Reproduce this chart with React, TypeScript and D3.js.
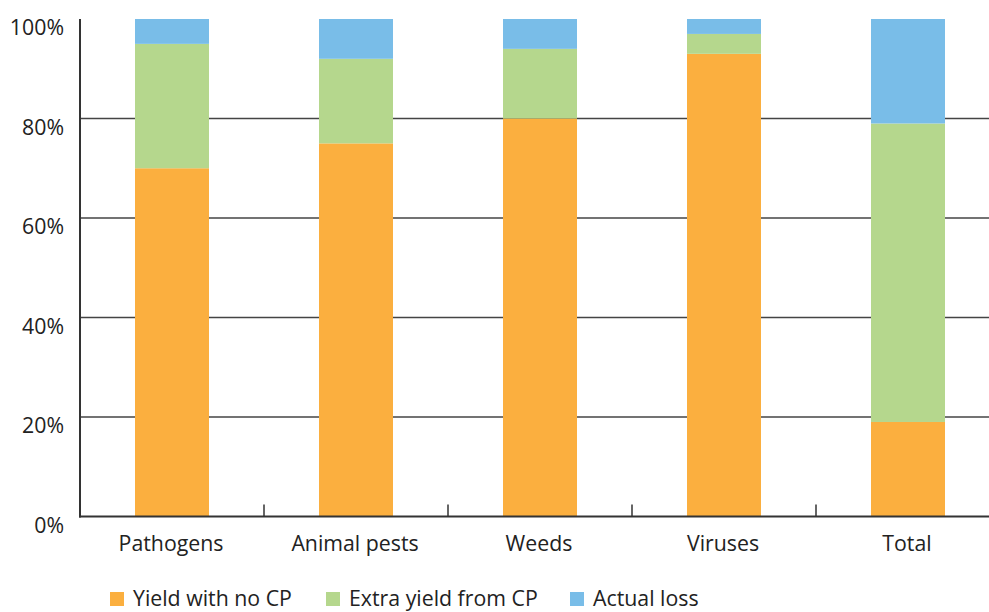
import React from "react";
import * as d3 from "d3";

const categories = ["Pathogens", "Animal pests", "Weeds", "Viruses", "Total"];
const yieldNoCP = [70, 75, 80, 93, 19];
const extraYield = [25, 17, 14, 4, 60];
const actualLoss = [5, 8, 6, 3, 21];
const seriesNames = ["Yield with no CP", "Extra yield from CP", "Actual loss"];
const seriesColors = ["#FBAF3F", "#B5D78D", "#79BDE8"];
const yTicks = [0, 20, 40, 60, 80, 100];

const W = 989;
const H = 612;
const left = 80;
const bandRight = 1000;
const top = 19;
const bottom = 516.5;
const font = "'Open Sans', 'Noto Sans', sans-serif";
const fs = 21.3;

export default function App() {
  const x = d3.scaleBand<string>().domain(categories).range([left, bandRight]).paddingInner(0).paddingOuter(0);
  const y = d3.scaleLinear().domain([0, 100]).range([bottom, top]);
  const barW = 74;

  const rows = categories.map((c, i) => ({
    cat: c,
    s0: yieldNoCP[i],
    s1: extraYield[i],
    s2: actualLoss[i],
  }));
  const stack = d3.stack<any>().keys(["s0", "s1", "s2"])(rows);

  const legendX = [110, 326, 570];

  return (
    <svg width={W} height={H} style={{ position: "absolute", left: 0, top: 0, background: "#fff" }}>
      {yTicks.filter((t) => t > 0 && t < 100).map((t) => (
        <line key={t} x1={left} x2={W} y1={y(t)} y2={y(t)} stroke="#444" strokeWidth={1.5} />
      ))}
      {stack.map((s, si) =>
        s.map((d, i) => (
          <rect
            key={si + "-" + i}
            x={(x(categories[i]) as number) + x.bandwidth() / 2 - barW / 2}
            y={y(d[1])}
            width={barW}
            height={y(d[0]) - y(d[1])}
            fill={seriesColors[si]}
          />
        ))
      )}
      <line x1={left} x2={left} y1={top} y2={bottom + 1} stroke="#333" strokeWidth={2} />
      <line x1={left - 1} x2={W} y1={bottom} y2={bottom} stroke="#333" strokeWidth={2} />
      {categories.map((c) => (
        <line key={c} x1={x(c) as number} x2={x(c) as number} y1={bottom - 12} y2={bottom} stroke="#333" strokeWidth={1.5} />
      ))}
      {yTicks.map((t) => (
        <text key={t} x={64} y={y(t) + 16} textAnchor="end" fontFamily={font} fontSize={fs} fill="#222">
          {t}%
        </text>
      ))}
      {categories.map((c) => (
        <text key={c} x={(x(c) as number) + x.bandwidth() / 2 - 1} y={551} textAnchor="middle" fontFamily={font} fontSize={fs} fill="#222">
          {c}
        </text>
      ))}
      {seriesNames.map((n, i) => (
        <g key={n}>
          <rect x={legendX[i]} y={592} width={14} height={14} fill={seriesColors[i]} />
          <text x={legendX[i] + 23} y={606} fontFamily={font} fontSize={fs} fill="#222">
            {n}
          </text>
        </g>
      ))}
    </svg>
  );
}
